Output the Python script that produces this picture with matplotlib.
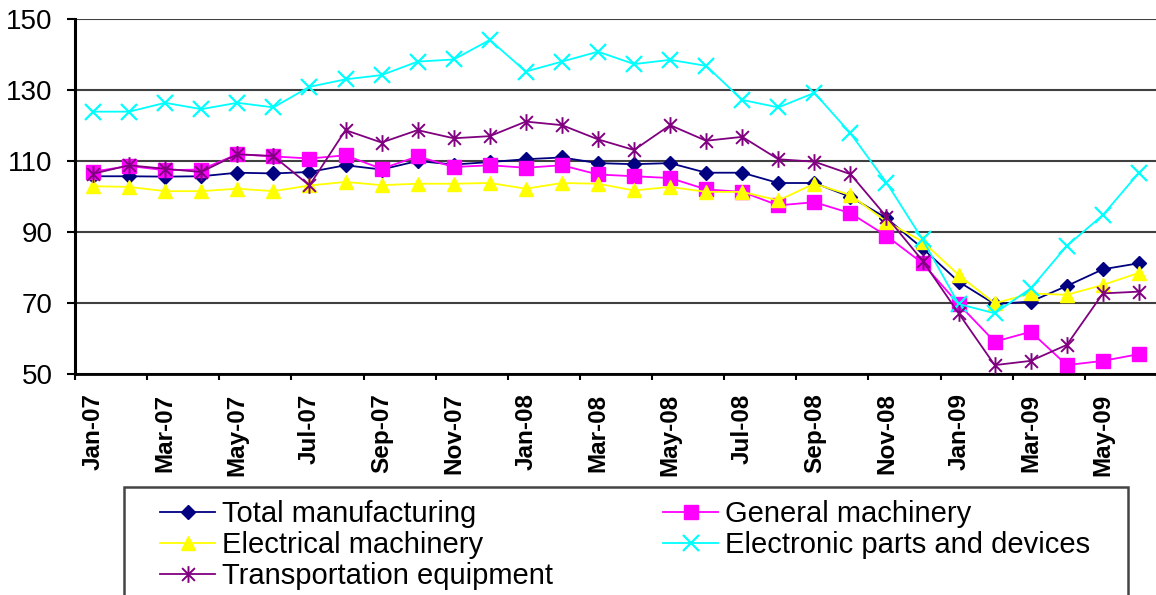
import matplotlib
matplotlib.use("Agg")
import matplotlib.pyplot as plt
from matplotlib.path import Path
from matplotlib.patches import Rectangle

plt.rcParams['font.family'] = ['Liberation Sans', 'DejaVu Sans']

# Meses (Jan-07 .. Jun-09)
meses = ['Jan-07', 'Feb-07', 'Mar-07', 'Apr-07', 'May-07', 'Jun-07', 'Jul-07', 'Aug-07',
         'Sep-07', 'Oct-07', 'Nov-07', 'Dec-07', 'Jan-08', 'Feb-08', 'Mar-08', 'Apr-08',
         'May-08', 'Jun-08', 'Jul-08', 'Aug-08', 'Sep-08', 'Oct-08', 'Nov-08', 'Dec-08',
         'Jan-09', 'Feb-09', 'Mar-09', 'Apr-09', 'May-09', 'Jun-09']

total = [105.7, 105.7, 105.6, 105.7, 106.7, 106.5, 106.9, 108.8, 107.6, 110.0,
         109.0, 109.7, 110.5, 111.0, 109.4, 109.1, 109.4, 106.7, 106.7, 103.8,
         103.8, 99.9, 93.9, 85.4, 76.0, 69.7, 70.4, 74.8, 79.5, 81.2]
general = [107.0, 108.6, 107.4, 107.6, 111.9, 111.3, 110.7, 111.6, 107.8, 111.3,
           108.3, 108.8, 108.1, 108.8, 106.2, 105.7, 105.2, 102.0, 101.3, 97.5,
           98.4, 95.3, 88.9, 81.2, 69.7, 59.1, 61.9, 52.5, 53.7, 55.6]
electrical = [102.9, 102.7, 101.5, 101.5, 102.2, 101.5, 103.1, 104.1, 103.2, 103.6,
              103.6, 103.8, 102.2, 103.8, 103.6, 101.7, 102.7, 101.3, 101.3, 98.9,
              103.6, 100.4, 92.9, 87.3, 77.9, 69.9, 72.7, 72.3, 75.1, 78.5]
electronic = [123.9, 123.9, 126.4, 124.6, 126.4, 125.1, 130.9, 133.0, 134.2, 138.0,
              138.6, 144.1, 135.2, 138.0, 140.8, 137.3, 138.5, 136.8, 127.2, 125.1,
              129.2, 117.8, 103.9, 87.9, 69.7, 67.1, 74.1, 86.1, 94.8, 106.7]
transport = [106.4, 108.8, 107.8, 106.9, 111.9, 111.4, 103.1, 118.7, 115.2, 118.7,
             116.4, 117.0, 121.1, 120.1, 116.1, 113.1, 120.1, 115.7, 116.8, 110.5,
             109.8, 106.3, 94.3, 81.9, 67.1, 52.5, 53.7, 58.2, 72.7, 73.2]

# marcador tipo "estrella" de Excel (x con linea vertical)
estrella = Path([(-1, -1), (1, 1), (-1, 1), (1, -1), (0, -1.3), (0, 1.3)],
                [Path.MOVETO, Path.LINETO, Path.MOVETO, Path.LINETO, Path.MOVETO, Path.LINETO])

fig = plt.figure(figsize=(11.56, 5.95), dpi=100)
ax = fig.add_axes([75 / 1156, 1 - 374 / 595, 1082 / 1156, 355 / 595])

x = list(range(len(meses)))
lw = 1.3
l_total, = ax.plot(x, total, color='#000080', lw=lw, marker='D', ms=7, label='Total manufacturing', zorder=3)
l_gen, = ax.plot(x, general, color='#FF00FF', lw=lw, marker='s', ms=9.5, label='General machinery', zorder=4)
l_ele, = ax.plot(x, electrical, color='#FFFF00', lw=lw, marker='^', ms=10, label='Electrical machinery', zorder=5)
l_elc, = ax.plot(x, electronic, color='#00FFFF', lw=lw, marker='x', ms=11, mew=1.6, label='Electronic parts and devices', zorder=6)
l_tra, = ax.plot(x, transport, color='#800080', lw=lw, marker=estrella, ms=12, mew=1.4, mfc='none',
                 label='Transportation equipment', zorder=7)

ax.set_ylim(50, 150)
ax.set_yticks(range(50, 151, 20))
ax.set_xlim(-0.5, 29.5)

# marcas en los limites de categoria, etiquetas en el centro
ax.set_xticks([i - 0.5 for i in range(0, 31, 2)])
ax.set_xticklabels([])
ax.set_xticks(x[::2], minor=True)
ax.set_xticklabels(meses[::2], minor=True, rotation=90, fontweight='bold', fontsize=17.5)
ax.tick_params(axis='x', which='major', direction='out', length=4.5, width=1.5)
ax.tick_params(axis='x', which='minor', length=0, pad=14)
ax.tick_params(axis='y', direction='out', length=6, width=1.5, labelsize=20, pad=10)

ax.grid(axis='y', color='#404040', lw=1.5)
ax.set_axisbelow(True)
for s in ['top', 'right']:
    ax.spines[s].set_visible(False)
ax.spines['left'].set_linewidth(2.2)
ax.spines['bottom'].set_linewidth(2)

# leyenda con marco que se sale por abajo
fig.patches.append(Rectangle((124 / 1156, -0.1), (1128 - 124) / 1156, (595 - 487) / 595 + 0.1,
                             transform=fig.transFigure, fill=False, edgecolor='#444444', lw=1.8))
orden = [l_total, l_ele, l_tra, l_gen, l_elc]
fig.legend(orden, [h.get_label() for h in orden],
           ncol=2, loc='upper left', bbox_to_anchor=(160 / 1156, 1 - 500 / 595),
           frameon=False, fontsize=21, borderpad=0, labelspacing=0.1,
           handlelength=1.9, handletextpad=0.24, columnspacing=3.75, borderaxespad=0)

plt.savefig("out.png", dpi=100)
plt.close()
